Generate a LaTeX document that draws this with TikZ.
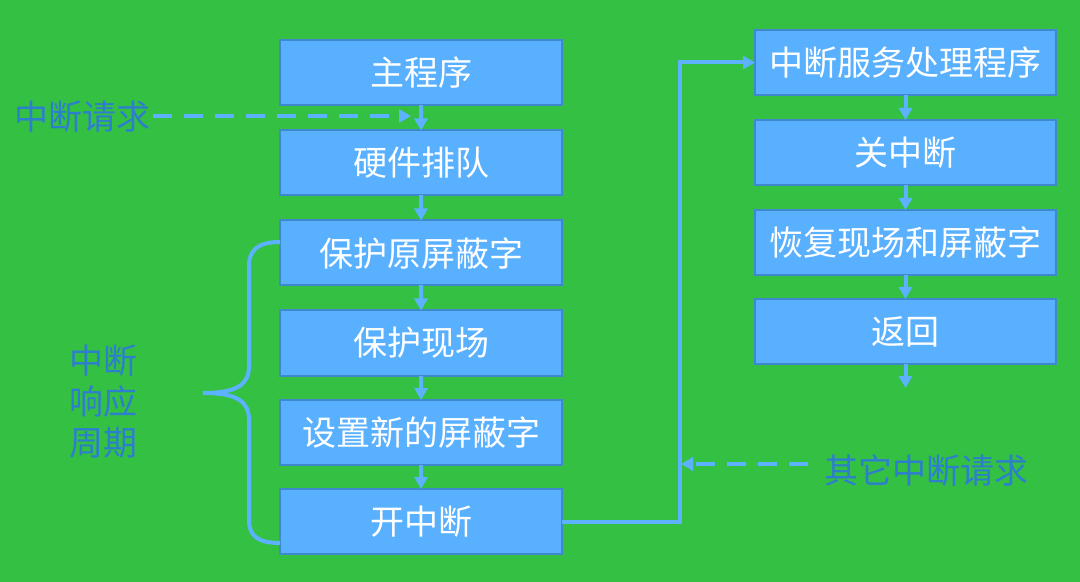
\documentclass[tikz,border=0pt]{standalone}
\usepackage{fontspec}
\setmainfont{Noto Sans CJK SC}
\usetikzlibrary{arrows.meta}
\definecolor{bg}{RGB}{51,192,67}
\definecolor{boxfill}{RGB}{88,176,255}
\definecolor{boxline}{RGB}{62,136,205}
\definecolor{conn}{RGB}{92,178,255}
\definecolor{lbl}{RGB}{46,126,206}
\tikzset{
  stepbox/.style={draw=boxline, line width=1pt, fill=boxfill, text=white, inner sep=0pt, outer sep=0pt,
    minimum height=32.5pt, font=\fontsize{17pt}{20pt}\selectfont},
  leftbox/.style={stepbox, minimum width=141pt},
  rightbox/.style={stepbox, minimum width=150.5pt},
  arr/.style={draw=conn, line width=2pt, -{Triangle[length=6pt,width=6.5pt]}},
  conline/.style={draw=conn, line width=2pt},
  dasharr/.style={draw=conn, line width=2pt, dash pattern=on 9.5pt off 6pt, -{Triangle[length=6pt,width=6.5pt]}},
  lbltext/.style={text=lbl, inner sep=0pt, font=\fontsize{17pt}{20.5pt}\selectfont},
}
\begin{document}
\begin{tikzpicture}[x=0.5pt, y=-0.5pt]
\fill[bg] (0,0) rectangle (1080,582);
\useasboundingbox (0,0) rectangle (1080,582);
% left column
\node[leftbox] (b1) at (421,73) {主程序};
\node[leftbox] (b2) at (421,163) {硬件排队};
\node[leftbox] (b3) at (421,253) {保护原屏蔽字};
\node[leftbox] (b4) at (421,343) {保护现场};
\node[leftbox] (b5) at (421,432.5) {设置新的屏蔽字};
\node[leftbox] (b6) at (421,521.5) {开中断};
% right column
\node[rightbox] (r1) at (905.5,62.5) {中断服务处理程序};
\node[rightbox] (r2) at (905.5,152.5) {关中断};
\node[rightbox] (r3) at (905.5,242.5) {恢复现场和屏蔽字};
\node[rightbox] (r4) at (905.5,331.5) {返回};
% vertical arrows
\draw[arr] (b1.south) -- (b2.north);
\draw[arr] (b2.south) -- (b3.north);
\draw[arr] (b3.south) -- (b4.north);
\draw[arr] (b4.south) -- (b5.north);
\draw[arr] (b5.south) -- (b6.north);
\draw[arr] (r1.south) -- (r2.north);
\draw[arr] (r2.south) -- (r3.north);
\draw[arr] (r3.south) -- (r4.north);
\coordinate (rend) at (905.5,388);
\draw[arr] (r4.south) -- (rend);
% connector from 开中断 to 中断服务处理程序
\coordinate (bend) at (680,300);
\draw[arr] (b6.east) -- (b6.east -| bend) -- (bend |- r1.west) -- (r1.west);
% labels
\node[lbltext] (req) at (82,117) {中断请求};
\coordinate (reqend) at (411,116);
\draw[dasharr] (req.east |- reqend) ++(3,0) -- (reqend);
\node[lbltext] (oreq) at (926,471) {其它中断请求};
\coordinate (ostart) at (808,464);
\coordinate (oend) at (681,464);
\draw[dasharr] (ostart) -- (oend);
\node[lbltext, align=center] (period) at (103,402) {中断\\响应\\周期};
% brace
\draw[conline] (280,242) .. controls (258,242) and (249,250) .. (249,266)
  -- (249,366) .. controls (249,384) and (238,393) .. (203,393)
  .. controls (238,393) and (249,402) .. (249,420)
  -- (249,520) .. controls (249,536) and (258,543) .. (280,543);
\end{tikzpicture}
\end{document}
